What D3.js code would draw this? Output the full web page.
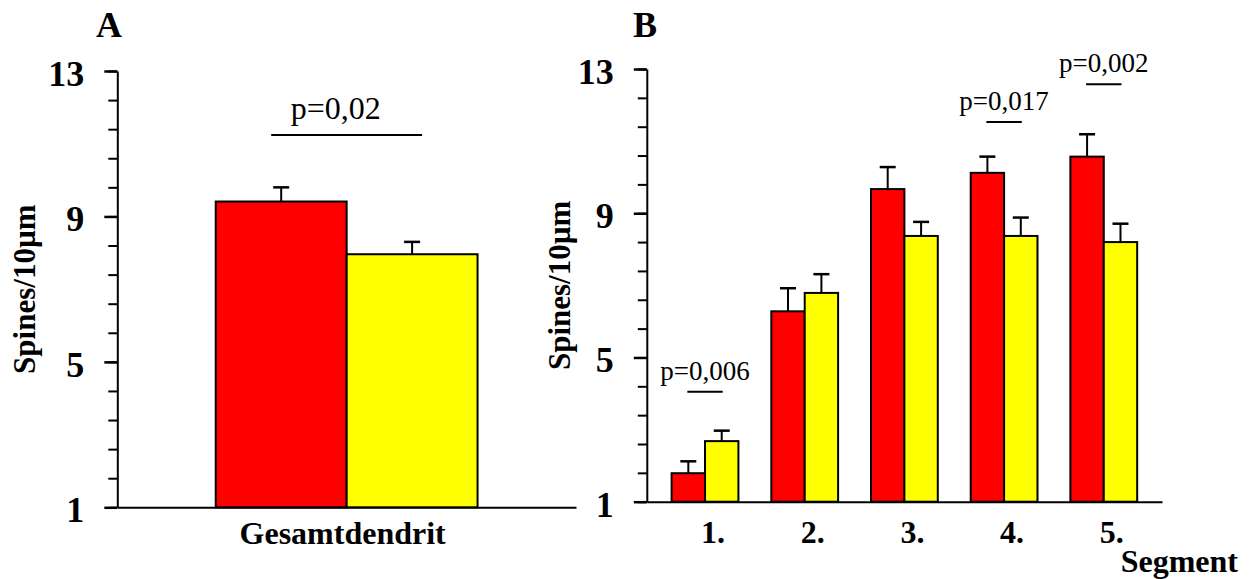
<!DOCTYPE html>
<html>
<head>
<meta charset="utf-8">
<script src="https://cdn.jsdelivr.net/npm/d3@7"></script>
<style>
  html, body { margin: 0; padding: 0; background: #fff; }
  svg { display: block; font-family: "Liberation Serif", "Times New Roman", serif; }
</style>
</head>
<body>
<svg id="chart" width="1251" height="579"></svg>
<script>
// Spine density per 10 µm, two groups (red / yellow), mean with upward SEM bar.
const totalCategories = ["Gesamtdendrit"];
const totalRed = [9.41];
const totalRedErr = [0.39];
const totalYellow = [7.96];
const totalYellowErr = [0.34];

const segments = ["1.", "2.", "3.", "4.", "5."];
const segRed = [1.79, 6.28, 9.67, 10.12, 10.57];
const segRedErr = [0.33, 0.64, 0.61, 0.45, 0.62];
const segYellow = [2.68, 6.79, 8.37, 8.37, 8.20];
const segYellowErr = [0.29, 0.52, 0.39, 0.51, 0.51];

// Significance annotations: category, label, bracket level (in y units)
const totalPCats = ["Gesamtdendrit"];
const totalPLabels = ["p=0,02"];
const totalPLevels = [11.24];

const segPCats = ["1.", "4.", "5."];
const segPLabels = ["p=0,006", "p=0,017", "p=0,002"];
const segPLevels = [4.05, 11.53, 12.58];

const majorTicks = [1, 5, 9, 13];
const minorTicks = d3.range(0, 16).map(k => 1 + 0.8 * k);

const RED = "#ff0000", YELLOW = "#ffff00";
const svg = d3.select("#chart");
svg.append("rect").attr("width", 1251).attr("height", 579).attr("fill", "#fff");

function drawPanel(cfg) {
  const g = svg.append("g");
  const y = d3.scaleLinear().domain([1, 13]).range([cfg.yBottom, cfg.yTop]);
  const x = d3.scaleBand().domain(cfg.categories)
    .range([cfg.axisX, cfg.xEnd])
    .paddingInner(cfg.padInner).paddingOuter(cfg.padOuter);
  const xi = d3.scaleBand().domain(["red", "yellow"]).range([0, x.bandwidth()]).padding(0);

  // x axis (baseline with category labels)
  const xAxis = g.append("g")
    .attr("transform", `translate(0,${y(1)})`)
    .call(d3.axisBottom(x).tickSize(0).tickSizeOuter(0));
  xAxis.select(".domain").attr("stroke", "#000").attr("stroke-width", 2);
  xAxis.selectAll("text")
    .attr("y", cfg.catLabelDy).attr("dy", 0).attr("dx", cfg.catLabelDx)
    .attr("fill", "#000")
    .style("font-family", "'Liberation Serif', 'Times New Roman', serif")
    .style("font-size", "32px").style("font-weight", "bold");

  // minor ticks
  const minor = g.append("g")
    .attr("transform", `translate(${cfg.axisX},0)`)
    .call(d3.axisLeft(y).tickValues(minorTicks).tickSize(9).tickSizeOuter(0).tickFormat(""));
  minor.select(".domain").remove();
  minor.selectAll("line").attr("stroke", "#000").attr("stroke-width", 2);

  // major ticks + labels
  const major = g.append("g")
    .attr("transform", `translate(${cfg.axisX},0)`)
    .call(d3.axisLeft(y).tickValues(majorTicks).tickSize(13).tickSizeOuter(0).tickFormat(d3.format("d")));
  major.select(".domain").attr("stroke", "#000").attr("stroke-width", 2);
  major.selectAll("line").attr("stroke", "#000").attr("stroke-width", 2.5);
  major.selectAll("text")
    .attr("x", -33).attr("dy", "0.4em")
    .attr("fill", "#000")
    .style("font-family", "'Liberation Serif', 'Times New Roman', serif")
    .style("font-size", "36px").style("font-weight", "bold");

  // y axis title
  g.append("text")
    .attr("transform", `translate(${cfg.axisX - cfg.yTitleOffset},${(y(1) + y(13)) / 2}) rotate(-90)`)
    .attr("text-anchor", "middle")
    .style("font-size", "31px").style("font-weight", "bold")
    .text("Spines/10µm");

  // panel letter
  g.append("text")
    .attr("x", cfg.letterX).attr("y", 37)
    .style("font-size", "36px").style("font-weight", "bold")
    .text(cfg.letter);

  // bars
  const rows = cfg.categories.map((c, i) => [
    { cat: c, key: "red", v: cfg.red[i], e: cfg.redErr[i], color: RED },
    { cat: c, key: "yellow", v: cfg.yellow[i], e: cfg.yellowErr[i], color: YELLOW }
  ]).flat();

  const bars = g.append("g");
  // error bars first, bars drawn over the stem base
  rows.forEach(d => {
    const cx = x(d.cat) + xi(d.key) + xi.bandwidth() / 2;
    bars.append("line")
      .attr("x1", cx).attr("x2", cx)
      .attr("y1", y(d.v)).attr("y2", y(d.v + d.e))
      .attr("stroke", "#000").attr("stroke-width", 2);
    bars.append("line")
      .attr("x1", cx - 8).attr("x2", cx + 8)
      .attr("y1", y(d.v + d.e)).attr("y2", y(d.v + d.e))
      .attr("stroke", "#000").attr("stroke-width", 2.5);
  });
  bars.selectAll("rect").data(rows).join("rect")
    .attr("x", d => x(d.cat) + xi(d.key))
    .attr("y", d => y(d.v))
    .attr("width", xi.bandwidth())
    .attr("height", d => y(1) - y(d.v))
    .attr("fill", d => d.color)
    .attr("stroke", "#000").attr("stroke-width", 2);

  // significance brackets
  cfg.pCats.forEach((c, i) => {
    const x1 = x(c) + xi("red") + xi.bandwidth() / 2 - cfg.pExt;
    const x2 = x(c) + xi("yellow") + xi.bandwidth() / 2 + cfg.pExt;
    const ly = y(cfg.pLevels[i]);
    g.append("line")
      .attr("x1", x1).attr("x2", x2).attr("y1", ly).attr("y2", ly)
      .attr("stroke", "#000").attr("stroke-width", 2);
    g.append("text")
      .attr("x", (x1 + x2) / 2 + cfg.pDx).attr("y", ly - cfg.pGap)
      .attr("text-anchor", "middle")
      .style("font-size", cfg.pFont + "px")
      .text(cfg.pLabels[i]);
  });

  if (cfg.xTitle) {
    g.append("text")
      .attr("x", 1238).attr("y", 572)
      .attr("text-anchor", "end")
      .style("font-size", "32px").style("font-weight", "bold")
      .text(cfg.xTitle);
  }
}

drawPanel({
  letter: "A", letterX: 96,
  categories: totalCategories,
  red: totalRed, redErr: totalRedErr, yellow: totalYellow, yellowErr: totalYellowErr,
  axisX: 117.3, xEnd: 576, yTop: 71, yBottom: 507.3,
  padInner: 0, padOuter: 0.376,
  catLabelDy: 37, catLabelDx: -4,
  yTitleOffset: 82,
  pCats: totalPCats, pLabels: totalPLabels, pLevels: totalPLevels,
  pExt: 10, pDx: -11, pGap: 16, pFont: 32
});

drawPanel({
  letter: "B", letterX: 633,
  categories: segments,
  red: segRed, redErr: segRedErr, yellow: segYellow, yellowErr: segYellowErr,
  axisX: 646.8, xEnd: 1162, yTop: 69, yBottom: 501.7,
  padInner: 0.33, padOuter: 0.249,
  catLabelDy: 41, catLabelDx: 8,
  yTitleOffset: 77,
  pCats: segPCats, pLabels: segPLabels, pLevels: segPLevels,
  pExt: 1, pDx: 0, pGap: 12, pFont: 27,
  xTitle: "Segment"
});
</script>
</body>
</html>
